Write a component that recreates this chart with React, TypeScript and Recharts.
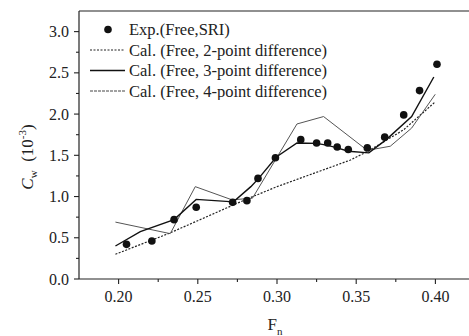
import React from 'react';
import { ComposedChart, XAxis, YAxis, Line, Scatter, ReferenceLine, Legend } from 'recharts';

// Experimental (Free, SRI)
const expF = [0.205, 0.221, 0.235, 0.249, 0.272, 0.281, 0.288, 0.299, 0.315, 0.325, 0.332, 0.338, 0.345, 0.357, 0.368, 0.380, 0.390, 0.401];
const expC = [0.42, 0.46, 0.72, 0.87, 0.93, 0.95, 1.22, 1.47, 1.69, 1.65, 1.65, 1.60, 1.57, 1.59, 1.72, 1.99, 2.285, 2.605];

// Cal. (Free, 2-point difference)
const twoF = [0.198, 0.232, 0.281, 0.300, 0.346, 0.357, 0.380, 0.400];
const twoC = [0.30, 0.555, 0.97, 1.12, 1.44, 1.545, 1.81, 2.15];

// Cal. (Free, 3-point difference)
const threeF = [0.198, 0.2137, 0.235, 0.249, 0.2725, 0.2835, 0.2884, 0.2996, 0.3126, 0.325, 0.332, 0.338, 0.345, 0.358, 0.369, 0.385, 0.399];
const threeC = [0.40, 0.574, 0.72, 0.965, 0.935, 1.12, 1.22, 1.48, 1.65, 1.645, 1.62, 1.59, 1.55, 1.53, 1.69, 1.97, 2.45];

// Cal. (Free, 4-point difference)
const fourF = [0.198, 0.2326, 0.2484, 0.2716, 0.2845, 0.3126, 0.3294, 0.357, 0.3715, 0.385, 0.3999];
const fourC = [0.69, 0.55, 1.12, 0.96, 0.98, 1.88, 1.97, 1.56, 1.61, 1.83, 2.24];

const xTicks = [0.2, 0.225, 0.25, 0.275, 0.3, 0.325, 0.35, 0.375, 0.4];
const yTicks = [0, 0.25, 0.5, 0.75, 1, 1.25, 1.5, 1.75, 2, 2.25, 2.5, 2.75, 3];

const legendLabels = [
  'Exp.(Free,SRI)',
  'Cal. (Free, 2-point difference)',
  'Cal. (Free, 3-point difference)',
  'Cal. (Free, 4-point difference)',
];

const toPts = (fs: number[], cs: number[]) => fs.map((f, i) => ({ f, c: cs[i] }));
const expData = toPts(expF, expC);
const twoData = toPts(twoF, twoC);
const threeData = toPts(threeF, threeC);
const fourData = toPts(fourF, fourC);

const FONT = 'Liberation Serif, Tinos, DejaVu Serif, serif';
const TXT = { fontFamily: FONT };
const AX = '#222';

const isMajorX = (v: number) => Math.abs(v * 20 - Math.round(v * 20)) < 1e-6;
const isMajorY = (v: number) => Math.abs(v * 2 - Math.round(v * 2)) < 1e-6;

const XTick = (props: any) => {
  const { x, y, payload } = props;
  const v = payload.value;
  const major = isMajorX(v);
  return (
    <g>
      <line x1={x} x2={x} y1={y} y2={y + (major ? 5 : 3)} stroke={AX} strokeWidth={1.1} />
      {major && (
        <text x={x} y={y + 23} textAnchor="middle" style={TXT} fontSize={16} fill="#222">
          {v.toFixed(2)}
        </text>
      )}
    </g>
  );
};

const YTick = (props: any) => {
  const { x, y, payload } = props;
  const v = payload.value;
  const major = isMajorY(v);
  return (
    <g>
      <line x1={x - (major ? 5 : 3)} x2={x} y1={y} y2={y} stroke={AX} strokeWidth={1.1} />
      {major && (
        <text x={x - 10} y={y + 5.5} textAnchor="end" style={TXT} fontSize={16} fill="#222">
          {v.toFixed(1)}
        </text>
      )}
    </g>
  );
};

const XLabel = (props: any) => {
  const vb = props.viewBox || {};
  const cx = vb.x + vb.width / 2 - 2;
  const by = vb.y + 51;
  return (
    <text x={cx} y={by} textAnchor="middle" style={TXT} fontSize={17} fill="#222">
      F<tspan fontSize={11} dy={5}>n</tspan>
    </text>
  );
};

const YLabel = (props: any) => {
  const vb = props.viewBox || {};
  const cx = 33;
  const cy = vb.y + vb.height / 2 + 12;
  return (
    <text
      x={cx}
      y={cy}
      transform={`rotate(-90, ${cx}, ${cy})`}
      textAnchor="middle"
      style={TXT}
      fontSize={17}
      fill="#222"
    >
      <tspan fontStyle="italic">C</tspan>
      <tspan fontSize={11} dy={4}>w</tspan>
      <tspan dy={-4}>{'\u00a0 (10'}</tspan>
      <tspan fontSize={11} dy={-7}>-3</tspan>
      <tspan dy={7}>)</tspan>
    </text>
  );
};

const LegendContent = () => {
  const rows = [29.5, 50, 70.5, 91];
  return (
    <svg width={400} height={100} style={{ display: 'block' }}>
      <circle cx={108} cy={rows[0]} r={3.8} fill="#111" />
      <line x1={90} x2={125} y1={rows[1]} y2={rows[1]} stroke="#222" strokeWidth={1.2} strokeDasharray="2 1.5" />
      <line x1={90} x2={125} y1={rows[2]} y2={rows[2]} stroke="#111" strokeWidth={1.4} />
      <line x1={90} x2={125} y1={rows[3]} y2={rows[3]} stroke="#444" strokeWidth={1} strokeDasharray="3 1" />
      {legendLabels.map((t, i) => (
        <text key={t} x={129} y={rows[i] + 5.5} style={TXT} fontSize={16.5} fill="#222">
          {t}
        </text>
      ))}
    </svg>
  );
};

const Dot = (props: any) => <circle cx={props.cx} cy={props.cy} r={3.8} fill="#111" />;

export default function App() {
  return (
    <div style={{ position: 'fixed', left: 0, top: 0, width: 469, height: 336, overflow: 'hidden', background: '#fff', fontFamily: FONT }}>
      <ComposedChart width={480} height={336} margin={{ top: 11, right: 5, bottom: 27, left: 19 }} style={{ fontFamily: FONT }}>
        <XAxis
          type="number"
          dataKey="f"
          domain={[0.175, 0.425]}
          ticks={xTicks}
          interval={0}
          allowDataOverflow
          height={30}
          tickSize={0}
          tickMargin={0}
          tickLine={false}
          axisLine={{ stroke: AX, strokeWidth: 1.2 }}
          tick={<XTick />}
          label={<XLabel />}
        />
        <YAxis
          type="number"
          dataKey="c"
          domain={[0, 3.25]}
          ticks={yTicks}
          interval={0}
          allowDataOverflow
          width={60}
          tickSize={0}
          tickMargin={0}
          tickLine={false}
          axisLine={{ stroke: AX, strokeWidth: 1.2 }}
          tick={<YTick />}
          label={<YLabel />}
        />
        <ReferenceLine y={3.25} stroke={AX} strokeWidth={1.2} ifOverflow="visible" />
        <Legend verticalAlign="middle" layout="horizontal" wrapperStyle={{ left: 0, top: 0, width: 400, height: 100 }} content={<LegendContent />} />
        <Line data={twoData} dataKey="c" type="linear" dot={false} activeDot={false} stroke="#222" strokeWidth={1.2} strokeDasharray="2 1.5" isAnimationActive={false} />
        <Line data={fourData} dataKey="c" type="linear" dot={false} activeDot={false} stroke="#555" strokeWidth={1} isAnimationActive={false} />
        <Line data={threeData} dataKey="c" type="linear" dot={false} activeDot={false} stroke="#111" strokeWidth={1.4} isAnimationActive={false} />
        <Scatter data={expData} dataKey="c" shape={<Dot />} isAnimationActive={false} />
      </ComposedChart>
    </div>
  );
}
